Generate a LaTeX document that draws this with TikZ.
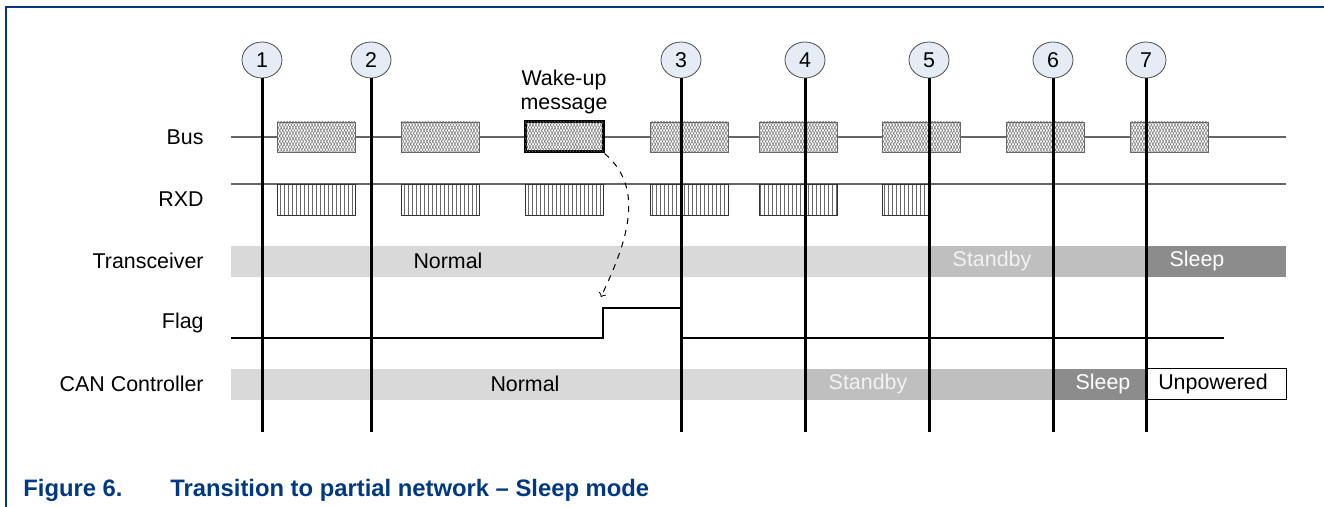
\documentclass[tikz,border=0pt]{standalone}
\usepackage{fontspec}
\setmainfont{Liberation Sans}
\usetikzlibrary{shapes.geometric,patterns.meta}
\definecolor{figblue}{RGB}{0,56,130}
\definecolor{markfill}{RGB}{230,236,246}
\definecolor{normalc}{RGB}{217,217,217}
\definecolor{standbyc}{RGB}{191,191,191}
\definecolor{sleepc}{RGB}{140,140,140}
\tikzset{
  marker/.style={ellipse, draw=black!70, fill=markfill, minimum width=20pt, minimum height=18pt, inner sep=0pt},
  tick/.style={line width=1.5pt},
  trace/.style={draw=black!60, line width=0.6pt},
  busbox/.style={draw=black!60, line width=0.4pt, minimum width=39pt, minimum height=15pt, inner sep=0pt,
    preaction={fill=white},
    pattern={Lines[angle=62,distance=1.3pt,line width=0.25pt]}, pattern color=black!55,
    postaction={pattern={Lines[angle=-62,distance=1.3pt,line width=0.25pt]}, pattern color=black!55}},
  rxdbox/.style={draw=black!80, line width=0.4pt, minimum height=15.5pt, inner sep=0pt,
    pattern={Lines[angle=90,distance=2pt,line width=0.3pt]}, pattern color=black!60},
  rowlabel/.style={anchor=east, inner sep=0pt},
  barlabel/.style={inner sep=0pt}
}
\begin{document}
\begin{tikzpicture}[x=0.5pt, y=-0.5pt, font=\fontsize{10.7}{12}\selectfont]
    \useasboundingbox (0,0) rectangle (1324,507);
    % frame
    \draw[figblue, line width=1pt] (6,507) -- (6,7) -- (1324,7);
    % row labels
    \node[rowlabel] (lbus) at (204,137) {Bus};
    \node[rowlabel] (lrxd) at (204,199) {RXD};
    \node[rowlabel] (ltrx) at (204,261) {Transceiver};
    \node[rowlabel] (lflag) at (204,323) {Flag};
    \node[rowlabel] (lcan) at (204,384) {CAN Controller};
    % transceiver states
    \fill[normalc] (231,246) rectangle (929,277);
    \fill[standbyc] (929,246) rectangle (1146,277);
    \fill[sleepc] (1146,246) rectangle (1286,277);
    \node[barlabel] (trxnormal) at (448,261) {Normal};
    \node[barlabel, text=white!95!black] (trxstandby) at (992,261) {Standby};
    \node[barlabel, text=white] (trxsleep) at (1197,261) {Sleep};
    % CAN controller states
    \fill[normalc] (231,369) rectangle (805,400);
    \fill[standbyc] (805,369) rectangle (1053,400);
    \fill[sleepc] (1053,369) rectangle (1146,400);
    \draw[fill=white, line width=0.5pt] (1146,369) rectangle (1286,400);
    \node[barlabel] (cannormal) at (525,384) {Normal};
    \node[barlabel, text=white!95!black] (canstandby) at (868,384) {Standby};
    \node[barlabel, text=white] (cansleep) at (1103,384) {Sleep};
    \node[barlabel] (canoff) at (1213,384) {Unpowered};
    % bus and rxd
    \draw[trace] (231,137) -- (1286,137);
    \draw[trace] (231,184) -- (1286,184);
    \foreach \x [count=\k] in {277,401,650,759,882,1006,1130}
        \node[busbox] (bus\k) at (\x+39,137) {};
    \node[busbox, draw=black, line width=1.5pt] (wake) at (564,137) {};
    \node[align=center, inner sep=0pt] (wakelabel) at (564,92) {Wake-up\\message};
    \foreach \x [count=\k] in {277,401,525,650,759}
        \node[rxdbox, minimum width=39pt] (rxd\k) at (\x+39,199.5) {};
    \node[rxdbox, minimum width=23.5pt] (rxd6) at (905.5,199.5) {};
    % flag
    \draw[line width=0.6pt] (231,338) -- (603,338) -- (603,308) -- (681,308) -- (681,338) -- (1224,338);
    \coordinate (flagset) at (601,297);
    \draw[->, dashed, line width=0.5pt] (wake.south east) to[out=-40, in=65] (flagset);
    % time markers
    \foreach \n/\x in {1/262,2/371,3/681,4/805,5/929,6/1053,7/1146} {
        \node[marker] (t\n) at (\x,60) {\n};
        \coordinate (e\n) at (\x,432);
        \draw[tick] (t\n) -- (e\n);
    }
    % caption
    \node[anchor=base west, inner sep=0pt, text=figblue, font=\fontsize{11.9}{14}\bfseries] (capnum) at (23,497) {Figure 6.};
    \node[anchor=base west, inner sep=0pt, text=figblue, font=\fontsize{11.9}{14}\bfseries] (captext) at (170,497) {Transition to partial network -- Sleep mode};
\end{tikzpicture}
\end{document}
